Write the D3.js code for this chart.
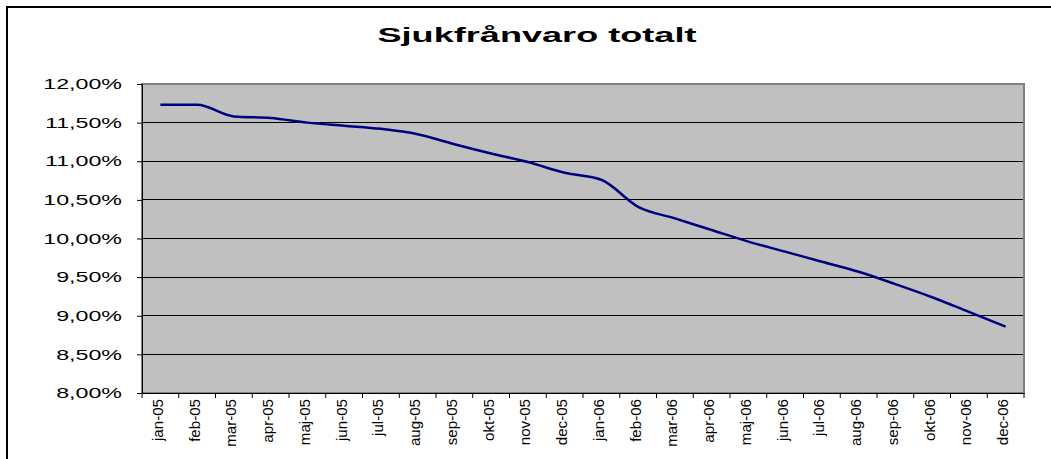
<!DOCTYPE html>
<html lang="sv">
<head>
<meta charset="UTF-8">
<title>Sjukfrånvaro totalt</title>
<script src="https://cdn.jsdelivr.net/npm/d3@7"></script>
<style>
  body { margin: 0; background: #fff; }
  svg { display: block; font-family: "Liberation Sans", Arial, sans-serif; }
</style>
</head>
<body>
<svg class="svg"></svg>
<script>
const months = ['jan-05','feb-05','mar-05','apr-05','maj-05','jun-05','jul-05','aug-05','sep-05','okt-05','nov-05','dec-05',
                'jan-06','feb-06','mar-06','apr-06','maj-06','jun-06','jul-06','aug-06','sep-06','okt-06','nov-06','dec-06'];
const sickRate = [11.73, 11.73, 11.58, 11.56, 11.50, 11.46, 11.42, 11.35, 11.22, 11.10, 10.99, 10.85,
                  10.76, 10.41, 10.26, 10.11, 9.96, 9.83, 9.70, 9.57, 9.41, 9.24, 9.05, 8.86];
const yTicks = [8, 8.5, 9, 9.5, 10, 10.5, 11, 11.5, 12];
const title = 'Sjukfrånvaro totalt';

const w = 1051, h = 459;
const plotLeft = 142, plotRight = 1024, plotTop = 84, plotBottom = 393;

const svg = d3.select('.svg').attr('width', w).attr('height', h);

// outer chart border (runs off the picture on right/bottom)
svg.append('rect')
  .attr('x', 7).attr('y', 7).attr('width', 1060).attr('height', 470)
  .attr('fill', 'none').attr('stroke', '#000').attr('stroke-width', 2);

svg.append('text')
  .attr('transform', 'translate(537,42) scale(1.72,1)')
  .attr('text-anchor', 'middle')
  .attr('font-size', 21).attr('font-weight', 'bold')
  .text(title);

const x = d3.scaleBand().domain(months).range([plotLeft, plotRight]);
const y = d3.scaleLinear().domain([8, 12]).range([plotBottom, plotTop]);

// plot area
svg.append('rect')
  .attr('x', plotLeft).attr('y', plotTop).attr('width', plotRight - plotLeft).attr('height', plotBottom - plotTop)
  .attr('fill', '#c0c0c0');

svg.append('g').selectAll('line')
  .data(yTicks.slice(1, -1))
  .enter().append('line')
  .attr('x1', plotLeft).attr('x2', plotRight)
  .attr('y1', d => y(d)).attr('y2', d => y(d))
  .attr('stroke', '#000').attr('stroke-width', 1).attr('shape-rendering', 'crispEdges');

svg.append('rect')
  .attr('x', plotLeft).attr('y', plotTop).attr('width', plotRight - plotLeft).attr('height', plotBottom - plotTop)
  .attr('fill', 'none').attr('stroke', '#808080').attr('stroke-width', 2);

// y axis
const yAxis = d3.axisLeft(y).tickValues(yTicks).tickSize(5).tickPadding(0)
  .tickFormat(d => d3.format('.2f')(d).replace('.', ',') + '%');
const gy = svg.append('g').attr('transform', 'translate(' + plotLeft + ',0)').call(yAxis);
gy.select('.domain').attr('stroke', '#000');
gy.selectAll('.tick line').attr('stroke', '#000');
gy.selectAll('.tick text')
  .attr('x', null).attr('dy', null)
  .attr('dominant-baseline', 'central')
  .attr('transform', 'translate(-20,0) scale(1.66,1)')
  .attr('font-size', 14).attr('font-family', '"Liberation Sans", Arial, sans-serif')
  .attr('fill', '#000');

// x axis
const xAxis = d3.axisBottom(x).tickSize(0).tickSizeOuter(0);
const gx = svg.append('g').attr('transform', 'translate(0,' + plotBottom + ')').call(xAxis);
gx.select('.domain').attr('stroke', '#000');
gx.selectAll('.tick text')
  .attr('y', null).attr('dy', null)
  .attr('text-anchor', 'end')
  .attr('dominant-baseline', 'central')
  .attr('transform', 'translate(-3,6) rotate(-90) scale(1.12,1.1)')
  .attr('font-size', 13.5).attr('font-family', '"Liberation Sans", Arial, sans-serif')
  .attr('fill', '#000');

// tick marks between categories
svg.append('g').selectAll('line')
  .data(months.concat(['end']))
  .enter().append('line')
  .attr('x1', (d, i) => plotLeft + i * x.step()).attr('x2', (d, i) => plotLeft + i * x.step())
  .attr('y1', plotBottom).attr('y2', plotBottom + 5)
  .attr('stroke', '#000');

// series
const line = d3.line()
  .x((d, i) => x(months[i]) + x.bandwidth() / 2)
  .y(d => y(d))
  .curve(d3.curveMonotoneX);

svg.append('path')
  .datum(sickRate)
  .attr('d', line)
  .attr('fill', 'none')
  .attr('stroke', '#000080')
  .attr('stroke-width', 2.5);
</script>
</body>
</html>
